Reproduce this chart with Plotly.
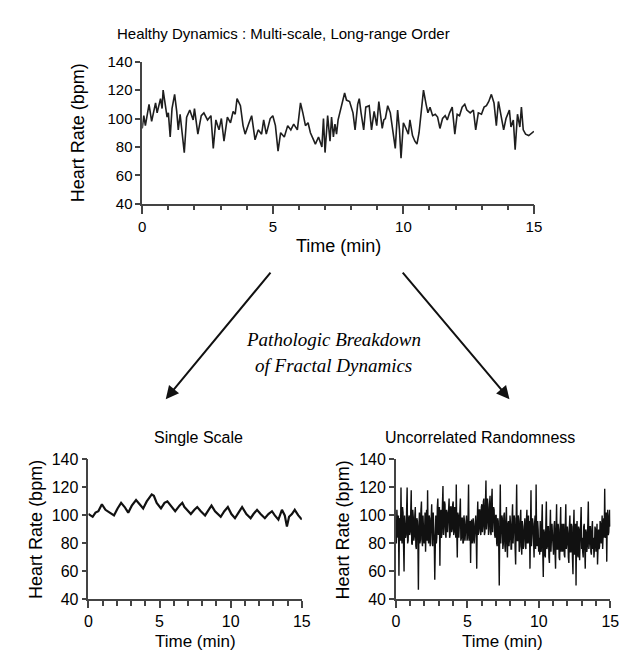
import numpy as np
import plotly.graph_objects as go

# healthy heart rate (top panel): time in minutes, rate in bpm
healthy_t = [0.0, 0.06, 0.12, 0.26, 0.36, 0.51, 0.57, 0.7, 0.76, 0.8, 0.88, 0.95, 1.0, 1.07, 1.14,
             1.24, 1.32, 1.38, 1.45, 1.51, 1.61, 1.7, 1.82, 1.95, 2.0, 2.13, 2.26, 2.36, 2.5, 2.63,
             2.72, 2.82, 2.94, 3.03, 3.13, 3.26, 3.38, 3.48, 3.56, 3.63, 3.76, 3.86, 3.94, 4.07, 4.19,
             4.32, 4.44, 4.57, 4.65, 4.75, 4.9, 5.0, 5.1, 5.2, 5.3, 5.44, 5.57, 5.69, 5.8, 5.94,
             6.06, 6.15, 6.25, 6.35, 6.44, 6.56, 6.63, 6.75, 6.88, 6.94, 7.0, 7.1, 7.19, 7.25, 7.32,
             7.38, 7.44, 7.5, 7.6, 7.69, 7.75, 7.82, 7.94, 8.07, 8.15, 8.25, 8.31, 8.38, 8.48, 8.56,
             8.69, 8.78, 8.88, 8.98, 9.06, 9.19, 9.25, 9.31, 9.4, 9.5, 9.6, 9.69, 9.78, 9.85, 9.91,
             10.0, 10.1, 10.19, 10.25, 10.35, 10.44, 10.52, 10.6, 10.69, 10.77, 10.87, 10.94, 11.02, 11.12, 11.22,
             11.31, 11.4, 11.5, 11.6, 11.68, 11.77, 11.87, 11.97, 12.06, 12.15, 12.25, 12.35, 12.43, 12.56, 12.68,
             12.77, 12.87, 12.99, 13.09, 13.18, 13.27, 13.37, 13.47, 13.56, 13.64, 13.74, 13.84, 13.93, 14.06, 14.12,
             14.21, 14.28, 14.37, 14.46, 14.52, 14.59, 14.68, 14.8, 14.93, 15.0]
healthy_hr = [93, 102, 95, 110, 98, 111, 104, 114, 107, 120, 110, 101, 104, 87, 107,
              117, 105, 92, 103, 94, 76, 101, 106, 99, 107, 89, 102, 104, 99, 102,
              79, 99, 92, 100, 84, 101, 97, 105, 103, 114, 109, 95, 89, 96, 102,
              85, 92, 89, 99, 89, 100, 102, 95, 77, 90, 87, 95, 92, 96, 92,
              111, 104, 95, 97, 90, 85, 82, 87, 80, 100, 76, 102, 84, 101, 87,
              96, 89, 99, 106, 114, 118, 113, 112, 104, 92, 110, 114, 104, 92, 108,
              109, 92, 105, 95, 112, 93, 99, 100, 109, 104, 89, 79, 106, 92, 72,
              97, 93, 89, 99, 88, 84, 82, 90, 105, 120, 110, 104, 108, 102, 103,
              101, 93, 100, 102, 99, 104, 108, 89, 103, 102, 108, 110, 106, 104, 106,
              92, 104, 103, 108, 109, 112, 117, 111, 95, 112, 102, 92, 100, 106, 94,
              99, 78, 103, 94, 108, 92, 89, 88, 90, 91]

# single scale (bottom left)
single_t = [0.0, 0.15, 0.3, 0.5, 0.7, 0.95, 1.2, 1.5, 1.8, 2.05, 2.3, 2.55, 2.8, 3.05, 3.35,
            3.6, 3.85, 4.1, 4.45, 4.6, 4.8, 5.1, 5.35, 5.55, 5.8, 6.1, 6.4, 6.6, 6.75, 7.0,
            7.2, 7.45, 7.65, 7.9, 8.2, 8.45, 8.65, 8.9, 9.3, 9.55, 9.8, 10.05, 10.3, 10.55, 10.8,
            11.1, 11.4, 11.6, 11.85, 12.1, 12.4, 12.65, 12.9, 13.1, 13.35, 13.6, 13.8, 13.95, 14.1, 14.3,
            14.5, 14.75, 15.0]
single_hr = [101, 100, 99, 102, 103, 108, 104, 102, 100, 105, 109, 106, 102, 107, 111,
             108, 105, 110, 115, 114, 109, 105, 109, 110, 107, 103, 107, 109, 106, 103,
             101, 104, 106, 103, 100, 104, 107, 103, 99, 103, 106, 101, 98, 102, 106,
             101, 98, 101, 104, 101, 98, 101, 103, 100, 97, 104, 100, 92, 99, 101,
             104, 100, 97]

# uncorrelated randomness (bottom right), one row per minute
random_hr = [
    92, 80, 104, 86, 84, 100, 57, 96, 98, 82, 120, 88, 80, 106, 102, 78, 60, 100, 95, 84, 86, 104, 120, 80, 82, 98, 100, 86,
    88, 102, 118, 80, 79, 104, 99, 82, 85, 100, 106, 78, 76, 98, 96, 84, 47, 92, 102, 80, 83, 104, 110, 82, 78, 100, 94, 80,
    86, 102, 74, 98, 104, 82, 118, 84, 80, 100, 98, 78, 87, 104, 108, 80, 78, 102, 96, 82, 54, 94, 100, 80, 84, 106, 112, 86,
    90, 106, 64, 100, 104, 84, 88, 108, 121, 86, 92, 110, 108, 86, 84, 104, 102, 88, 95, 110, 112, 84, 86, 106, 106, 88, 90, 108,
    110, 86, 88, 106, 104, 84, 122, 88, 70, 102, 100, 84, 92, 106, 112, 82, 84, 98, 98, 80, 81, 100, 96, 82, 88, 98, 100, 82,
    84, 98, 122, 82, 86, 96, 66, 94, 97, 80, 82, 98, 94, 80, 88, 100, 100, 84, 62, 96, 110, 86, 90, 104, 104, 88, 86, 106,
    108, 88, 92, 110, 112, 86, 88, 108, 125, 90, 96, 112, 106, 86, 90, 108, 114, 88, 86, 110, 119, 88, 98, 106, 104, 86, 84, 100,
    100, 80, 78, 98, 96, 78, 50, 92, 122, 80, 88, 100, 98, 76, 80, 100, 102, 78, 74, 96, 106, 80, 70, 94, 96, 78, 84, 100,
    94, 76, 76, 98, 108, 80, 86, 100, 98, 76, 65, 94, 122, 82, 82, 100, 96, 74, 78, 98, 104, 78, 72, 96, 92, 76, 86, 98,
    98, 78, 76, 96, 104, 80, 88, 100, 80, 96, 62, 92, 118, 78, 84, 98, 94, 76, 70, 94, 100, 76, 122, 82, 78, 96, 90, 74,
    84, 72, 96, 76, 74, 94, 108, 74, 56, 90, 88, 72, 70, 94, 110, 76, 78, 92, 92, 70, 66, 90, 104, 74, 80, 94, 86, 72,
    72, 92, 96, 74, 62, 90, 108, 76, 76, 94, 90, 70, 68, 92, 106, 74, 82, 94, 74, 90, 94, 72, 70, 92, 108, 76, 80, 92,
    88, 70, 66, 92, 100, 74, 74, 94, 92, 70, 58, 90, 104, 72, 78, 94, 50, 88, 96, 72, 70, 92, 90, 68, 76, 94, 106, 76,
    84, 74, 70, 92, 94, 76, 62, 90, 88, 74, 78, 94, 110, 76, 80, 92, 92, 74, 72, 90, 96, 76, 84, 70, 76, 92, 90, 74,
    82, 94, 65, 88, 90, 76, 78, 96, 94, 80, 86, 100, 76, 98, 98, 84, 119, 86, 84, 102, 67, 98, 104, 86, 88, 100, 104, 92,
]
random_t = np.linspace(0, 15, len(random_hr))

x_ticks = [0, 5, 10, 15]
y_ticks = [40, 60, 80, 100, 120, 140]

W, H = 627, 651
FONT = "Liberation Sans, Arial, sans-serif"
SERIF = "Liberation Serif, Times New Roman, serif"


def px(x):
    return x / W


def py(y):
    return 1 - y / H


fig = go.Figure()
fig.add_trace(go.Scatter(x=healthy_t, y=healthy_hr, mode="lines",
                         line=dict(color="#1e1e1e", width=1.6), xaxis="x", yaxis="y"))
fig.add_trace(go.Scatter(x=single_t, y=single_hr, mode="lines",
                         line=dict(color="#111", width=2.2), xaxis="x2", yaxis="y2"))
fig.add_trace(go.Scatter(x=random_t, y=random_hr, mode="lines",
                         line=dict(color="#111", width=1.4), xaxis="x3", yaxis="y3"))


def xax(domain, anchor, size, ticklen):
    return dict(domain=domain, anchor=anchor, range=[0, 15], tickvals=x_ticks,
                ticks="outside", ticklen=ticklen, tickwidth=1.5, tickcolor="#444",
                showline=True, linecolor="#444", linewidth=1.5,
                showgrid=False, zeroline=False, fixedrange=True,
                minor=dict(dtick=1, tick0=0, ticks="outside", ticklen=5,
                           tickwidth=1.5, tickcolor="#444", showgrid=False),
                tickfont=dict(size=size, color="black", family=FONT))


def yax(domain, anchor, size):
    return dict(domain=domain, anchor=anchor, range=[40, 140], tickvals=y_ticks,
                ticks="outside", ticklen=5, tickwidth=1.5, tickcolor="#444",
                showline=True, linecolor="#444", linewidth=1.5,
                showgrid=False, zeroline=False, fixedrange=True,
                tickfont=dict(size=size, color="black", family=FONT))


annotations = []


def text(x, y, s, size, angle=0, family=FONT, italic=False):
    annotations.append(dict(x=px(x), y=py(y), xref="paper", yref="paper", text=s,
                            showarrow=False, textangle=angle, xanchor="center", yanchor="middle",
                            font=dict(size=size, color="black", family=family,
                                      style="italic" if italic else "normal")))


text(277, 17, "Healthy Dynamics : Multi-scale, Long-range Order", 15)
text(67, 119, "Heart Rate (bpm)", 18, angle=-90)
text(333, 236, "Time (min)", 18)

text(190, 432, "Single Scale", 16)
text(25, 527, "Heart Rate (bpm)", 18, angle=-90)
text(187, 642, "Time (min)", 17)

text(478, 432, "Uncorrelated Randomness", 16)
text(338, 527, "Heart Rate (bpm)", 18, angle=-90)
text(501, 642, "Time (min)", 17)

text(328, 332, "Pathologic Breakdown", 19, family=SERIF, italic=True)
text(328, 358, "of Fractal Dynamics", 19, family=SERIF, italic=True)

# arrows from the top panel down to the two pathologic panels
for hx, hy, tx, ty in [(157, 393, 263, 265), (508, 393, 400, 265)]:
    annotations.append(dict(x=px(hx), y=py(hy), xref="paper", yref="paper", text="",
                            showarrow=True, ax=tx - hx, ay=ty - hy, axref="pixel", ayref="pixel",
                            arrowhead=2, arrowsize=1.3, arrowwidth=2, arrowcolor="#111"))

fig.update_layout(
    width=W, height=H, margin=dict(l=0, r=0, t=0, b=0),
    paper_bgcolor="white", plot_bgcolor="white", showlegend=False,
    font=dict(family=FONT, color="black"),
    xaxis=xax([px(133), px(533)], "y", 15, 9),
    yaxis=yax([py(192), py(46)], "x", 15),
    xaxis2=xax([px(78), px(296)], "y2", 16, 7),
    yaxis2=yax([py(599), py(455)], "x2", 16),
    xaxis3=xax([px(392), px(611)], "y3", 16, 7),
    yaxis3=yax([py(599), py(455)], "x3", 16),
    annotations=annotations,
)

fig.write_html("out.html")
